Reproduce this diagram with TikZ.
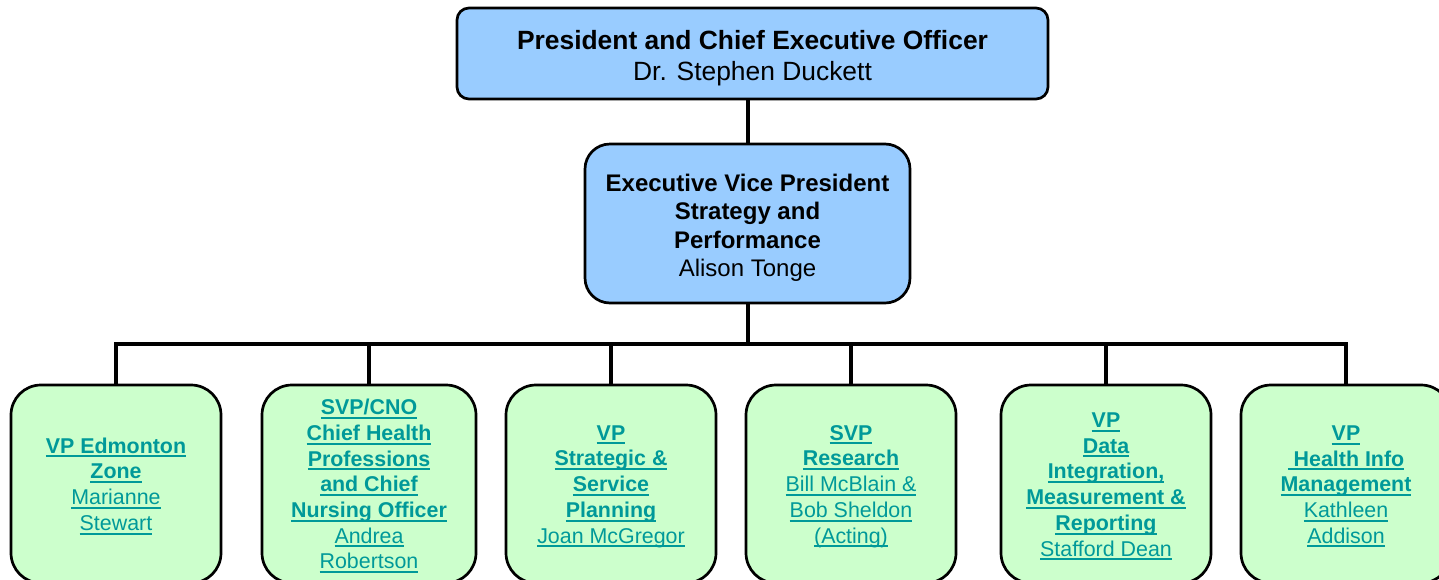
\documentclass[tikz,border=0pt]{standalone}
\usepackage{fontspec}
\setmainfont{Liberation Sans}
\definecolor{topblue}{RGB}{153,204,255}
\definecolor{boxgreen}{RGB}{204,255,204}
\definecolor{linkteal}{RGB}{0,153,153}
\newcommand{\ulin}[1]{\setbox0\hbox{#1}\rlap{\vrule height -2.2pt depth 4.2pt width \wd0}\box0}
\newcommand{\hd}[1]{\ulin{\bfseries #1}}
\newcommand{\nm}[1]{\ulin{#1}}
\newcommand{\up}[1]{\vrule width 0pt height \dimexpr\fontcharht\font`d+#1\relax}
\begin{document}
\begin{tikzpicture}[x=1pt,y=-1pt,
  topbox/.style={draw=black, line width=2.7pt, fill=topblue, rounded corners=12pt, inner sep=0pt, align=center, font=\fontsize{26.4}{31}\selectfont},
  evpbox/.style={draw=black, line width=2.7pt, fill=topblue, rounded corners=25pt, inner sep=0pt, align=center, font=\fontsize{24}{28.5}\selectfont},
  vpbox/.style={draw=black, line width=2.7pt, fill=boxgreen, rounded corners=30pt, inner sep=0pt, align=center, text=linkteal, minimum width=210pt, minimum height=198pt, font=\fontsize{21.4}{25.7}\selectfont},
  conn/.style={line width=4pt}]
\useasboundingbox (0,0) rectangle (1439,579);
\node[topbox, minimum width=591pt, minimum height=91pt] (ceo) at (752.5,53.5)
  {\up{10pt}\textbf{President and Chief Executive Officer}\\Dr. Stephen Duckett};
\node[evpbox, minimum width=325pt, minimum height=159pt] (evp) at (747.5,223.5)
  {\up{9pt}\textbf{Executive Vice President}\\\textbf{Strategy and}\\\textbf{Performance}\\Alison Tonge};
\node[vpbox] (b1) at (116,484) {\up{5pt}\hd{VP Edmonton}\\\hd{Zone}\\\nm{Marianne}\\\nm{Stewart}};
\node[vpbox, minimum width=214pt] (b2) at (369,484) {\up{5pt}\hd{SVP/CNO}\\\hd{Chief Health}\\\hd{Professions}\\\hd{and Chief}\\\hd{Nursing Officer}\\\nm{Andrea}\\\nm{Robertson}};
\node[vpbox] (b3) at (611,484) {\up{5pt}\hd{VP}\\\hd{Strategic \&}\\\hd{Service}\\\hd{Planning}\\\nm{Joan McGregor}};
\node[vpbox] (b4) at (851,484) {\up{5pt}\hd{SVP}\\\hd{Research}\\\nm{Bill McBlain \&}\\\nm{Bob Sheldon}\\\nm{(Acting)}};
\node[vpbox] (b5) at (1106,484) {\up{5pt}\hd{VP}\\\hd{Data}\\\hd{Integration,}\\\hd{Measurement \&}\\\hd{Reporting}\\\nm{Stafford Dean}};
\node[vpbox] (b6) at (1346,484) {\up{5pt}\hd{VP}\\\hd{\ Health Info}\\\hd{Management}\\\nm{Kathleen}\\\nm{Addison}};
\coordinate (bar) at (747.5,344);
\draw[conn] (ceo.south -| evp.north) -- (evp.north);
\draw[conn] (evp.south) -- (bar);
\draw[conn] (b1.north) |- (bar) -| (b6.north);
\foreach \b in {b2,b3,b4,b5} \draw[conn] (\b.north) -- (\b.north |- bar);
\end{tikzpicture}
\end{document}
